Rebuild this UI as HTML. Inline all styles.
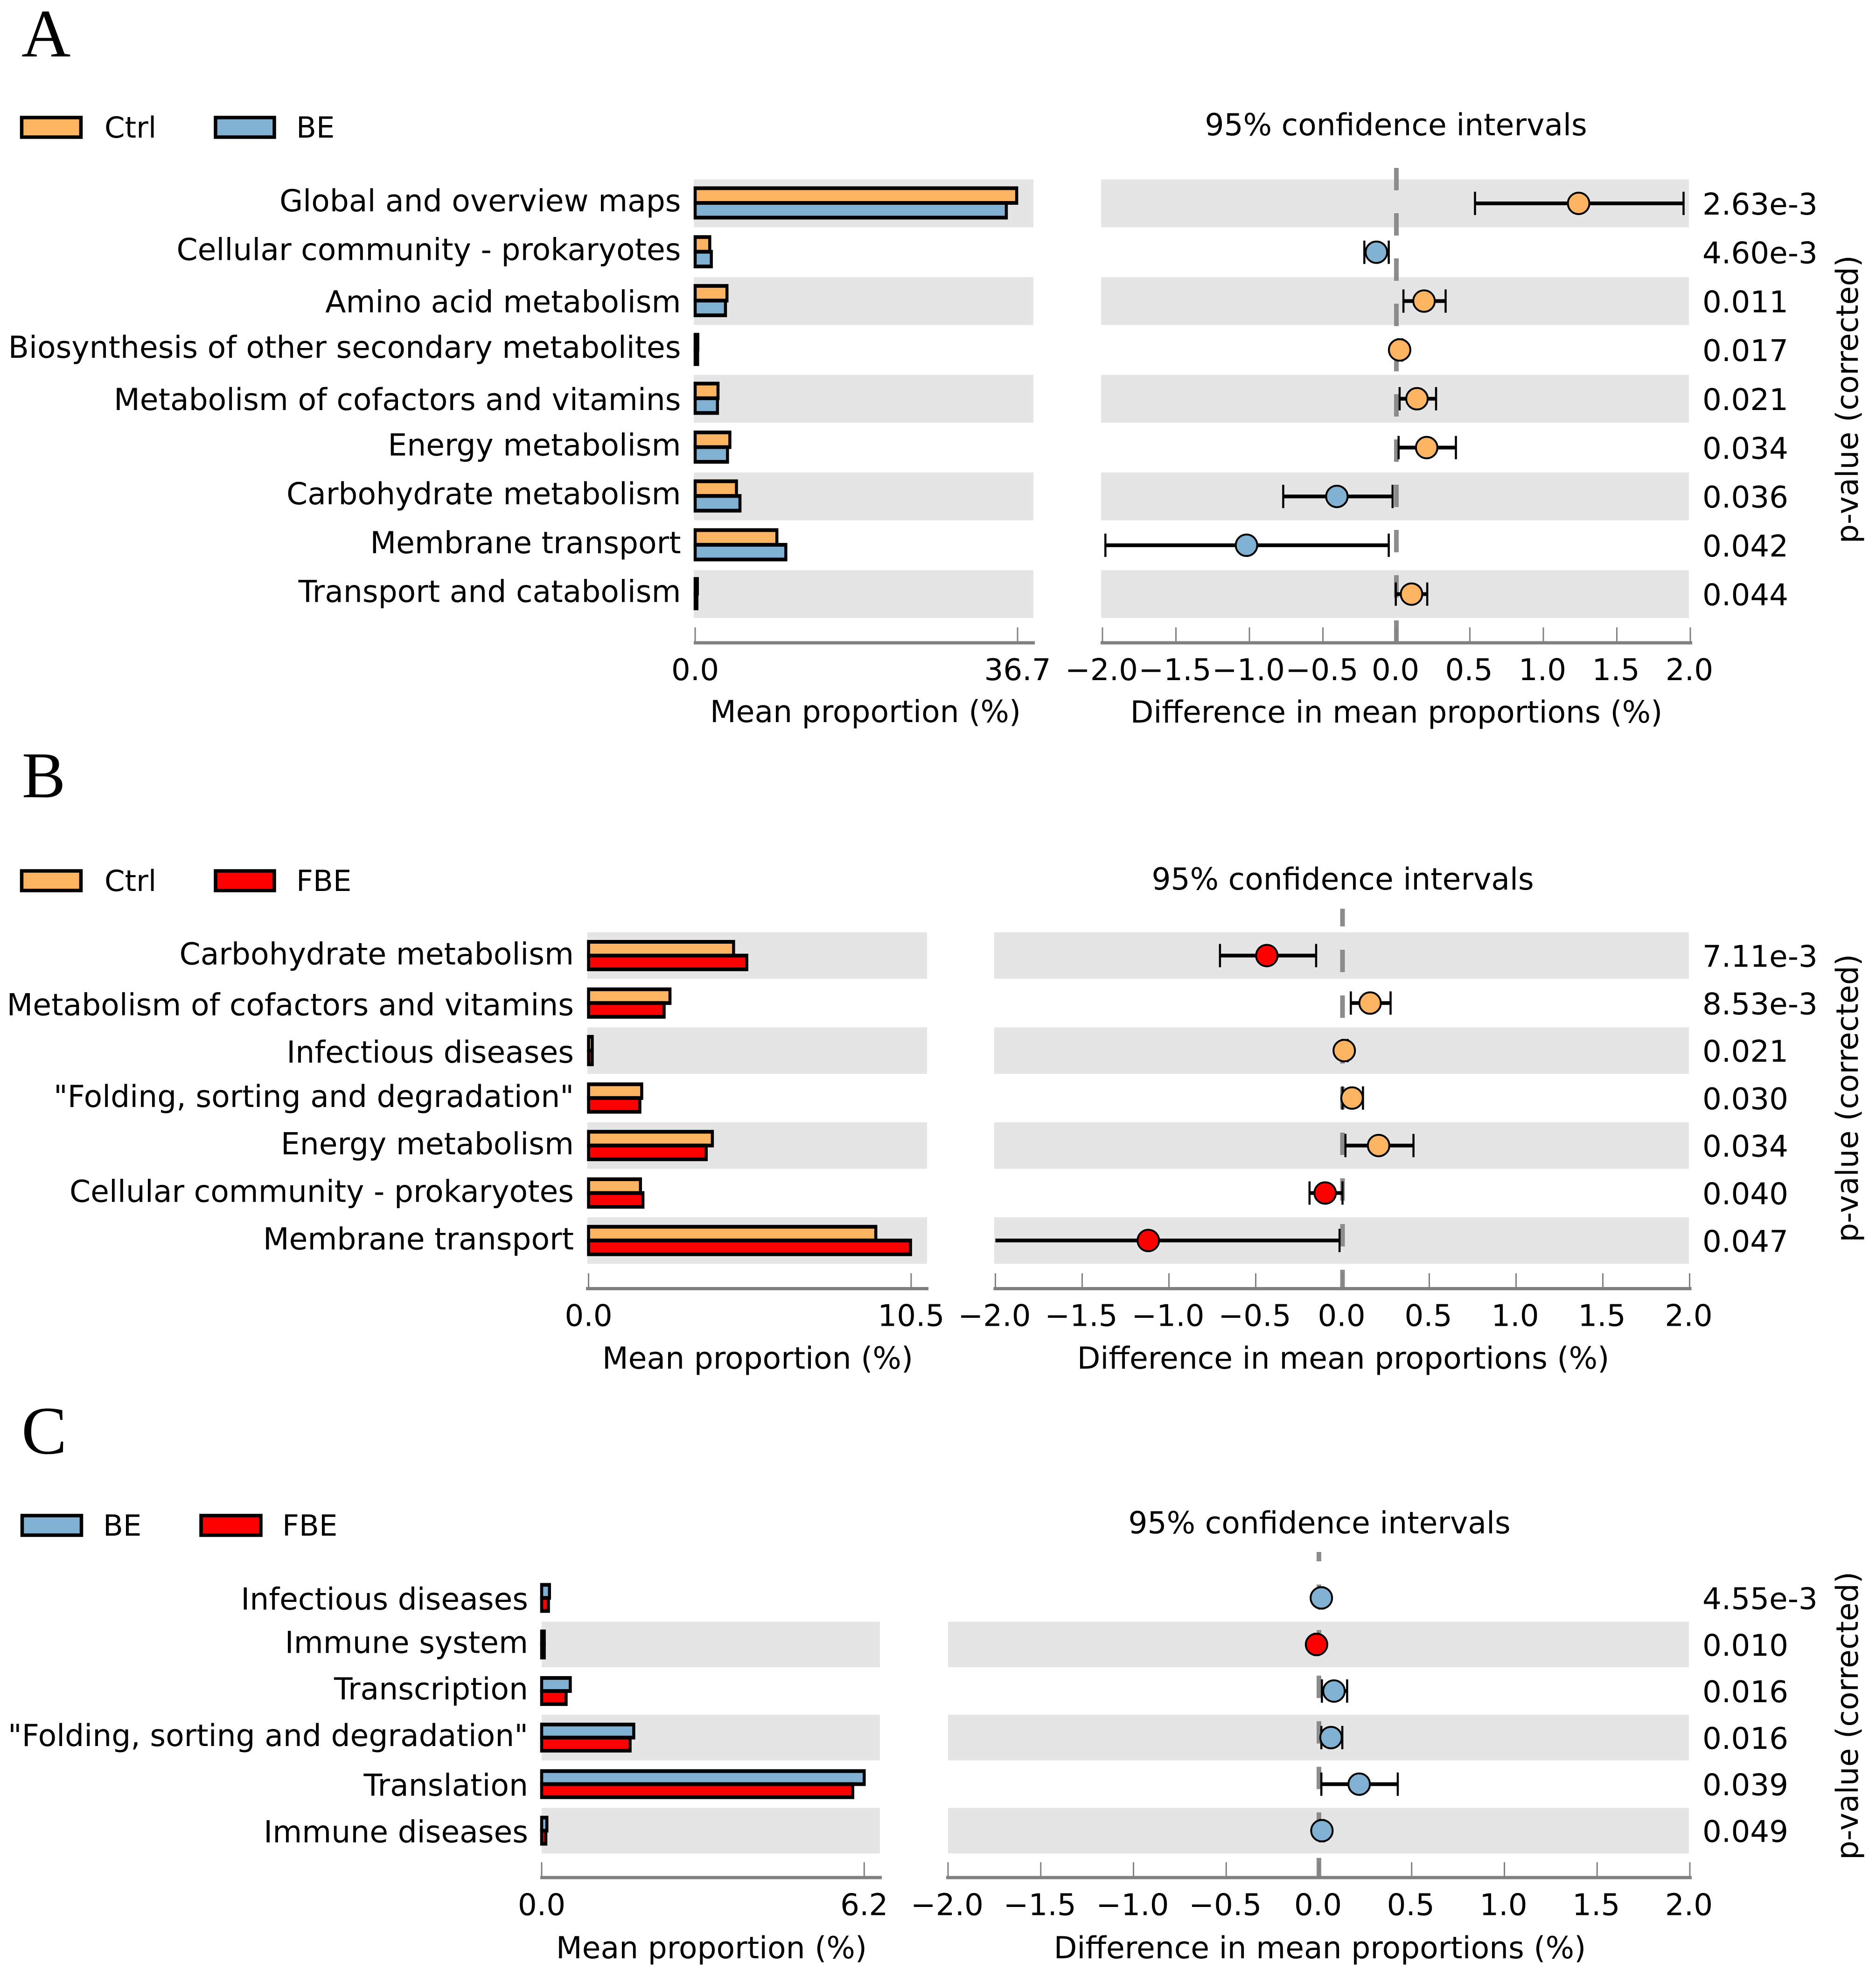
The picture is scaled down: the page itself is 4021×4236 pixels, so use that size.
<!DOCTYPE html>
<html lang="en">
<head>
<meta charset="utf-8">
<title>Extended error bar plots A, B, C</title>
<style>
html,body{margin:0;padding:0;background:#fff;}
svg{display:block;}
text{font-family:"DejaVu Sans","Liberation Sans",sans-serif;font-size:64.7px;fill:#000;}
.letter{font-family:"Liberation Serif",serif;font-size:146px;}
.legend-text{font-size:62.5px;}
.tick-text{font-size:64.3px;}
</style>
</head>
<body>
<svg id="figure" xmlns="http://www.w3.org/2000/svg" width="4021" height="4236" viewBox="0 0 4021 4236">
<rect x="0" y="0" width="4021" height="4236" fill="#ffffff"/>

<text class="letter" x="46" y="121">A</text>
<text class="letter" x="47" y="1709" style="font-size:140px">B</text>
<text class="letter" x="46" y="3116">C</text>

<g>
<rect x="46.5" y="252" width="127" height="42" fill="#FDB462" stroke="#000" stroke-width="7.5"/>
<text class="legend-text" x="224" y="295">Ctrl</text>
<rect x="462" y="252" width="126" height="42" fill="#80B1D3" stroke="#000" stroke-width="7.5"/>
<text class="legend-text" x="635" y="295">BE</text>
</g>
<g>
<rect x="46.5" y="1867" width="127" height="42" fill="#FDB462" stroke="#000" stroke-width="7.5"/>
<text class="legend-text" x="224" y="1910">Ctrl</text>
<rect x="462" y="1867" width="126" height="42" fill="#FF0000" stroke="#000" stroke-width="7.5"/>
<text class="legend-text" x="635" y="1910">FBE</text>
</g>
<g>
<rect x="47.5" y="3249" width="127" height="42" fill="#80B1D3" stroke="#000" stroke-width="7.5"/>
<text class="legend-text" x="221" y="3292">BE</text>
<rect x="431" y="3249" width="128" height="42" fill="#FF0000" stroke="#000" stroke-width="7.5"/>
<text class="legend-text" x="605" y="3292">FBE</text>
</g>

<text x="2992" y="290" text-anchor="middle">95% confidence intervals</text>
<text x="2878" y="1907" text-anchor="middle">95% confidence intervals</text>
<text x="2828" y="3287" text-anchor="middle">95% confidence intervals</text>

<text x="1855" y="1548" text-anchor="middle">Mean proportion (%)</text>
<text x="1624" y="2934" text-anchor="middle">Mean proportion (%)</text>
<text x="1525" y="4198" text-anchor="middle">Mean proportion (%)</text>

<text x="2993" y="1549" text-anchor="middle">Difference in mean proportions (%)</text>
<text x="2879" y="2934" text-anchor="middle">Difference in mean proportions (%)</text>
<text x="2829" y="4198" text-anchor="middle">Difference in mean proportions (%)</text>

<text transform="translate(3982,856) rotate(-90)" text-anchor="middle">p-value (corrected)</text>
<text transform="translate(3982,2354) rotate(-90)" text-anchor="middle">p-value (corrected)</text>
<text transform="translate(3982,3678) rotate(-90)" text-anchor="middle">p-value (corrected)</text>
</svg>

<script>
/* Panel A data */
var categoriesA = ["Global and overview maps","Cellular community - prokaryotes","Amino acid metabolism","Biosynthesis of other secondary metabolites","Metabolism of cofactors and vitamins","Energy metabolism","Carbohydrate metabolism","Membrane transport","Transport and catabolism"];
var ctrlMeanA = [36.6,1.66,3.62,0.3,2.6,3.95,4.7,9.3,0.25];
var beMeanA = [35.42,1.84,3.45,0.28,2.54,3.68,5.1,10.32,0.2];
var diffA = [1.24,-0.136,0.188,0.022,0.14,0.206,-0.405,-1.02,0.103];
var ciLowA = [0.535,-0.218,0.048,0.01,0.022,0.015,-0.77,-1.98,-0.004];
var ciHighA = [1.954,-0.052,0.335,0.04,0.27,0.405,-0.026,-0.052,0.21];
var pValuesA = ["2.63e-3","4.60e-3","0.011","0.017","0.021","0.034","0.036","0.042","0.044"];
var meanTicksA = [0,36.7];

/* Panel B data */
var categoriesB = ["Carbohydrate metabolism","Metabolism of cofactors and vitamins","Infectious diseases","\"Folding, sorting and degradation\"","Energy metabolism","Cellular community - prokaryotes","Membrane transport"];
var ctrlMeanB = [4.72,2.65,0.12,1.73,4.03,1.69,9.35];
var fbeMeanB = [5.15,2.46,0.12,1.67,3.83,1.77,10.48];
var diffB = [-0.436,0.159,0.01,0.055,0.208,-0.1,-1.119];
var ciLowB = [-0.706,0.048,0.0,0.0,0.017,-0.19,-2.0];
var ciHighB = [-0.152,0.277,0.03,0.118,0.409,0.0,-0.017];
var pValuesB = ["7.11e-3","8.53e-3","0.021","0.030","0.034","0.040","0.047"];
var meanTicksB = [0,10.5];

/* Panel C data */
var categoriesC = ["Infectious diseases","Immune system","Transcription","\"Folding, sorting and degradation\"","Translation","Immune diseases"];
var beMeanC = [0.15,0.05,0.55,1.77,6.2,0.1];
var fbeMeanC = [0.13,0.05,0.47,1.7,5.98,0.08];
var diffC = [0.013,-0.013,0.081,0.065,0.217,0.016];
var ciLowC = [0.003,-0.023,0.016,0.013,0.013,0.006];
var ciHighC = [0.023,-0.003,0.152,0.126,0.425,0.026];
var pValuesC = ["4.55e-3","0.010","0.016","0.016","0.039","0.049"];
var meanTicksC = [0,6.2];

var diffTicks = [-2,-1.5,-1,-0.5,0,0.5,1,1.5,2];

var ORANGE = "#FDB462", BLUE = "#80B1D3", RED = "#FF0000";
var svg = document.getElementById("figure");
var NS = "http://www.w3.org/2000/svg";

function make(tag, attrs, parent) {
  var el = document.createElementNS(NS, tag);
  for (var k in attrs) { el.setAttribute(k, attrs[k]); }
  parent.appendChild(el);
  return el;
}

function drawPanel(p) {
  var root = make("g", {}, svg);
  
  

  var meanX = function (v) { return p.mean0 + v * p.meanUnit; };
  var diffX = function (v) { return p.diff0 + v * p.diffUnit; };
  var rowY = function (i) { return p.y0 + i * p.pitch; };
  var SX = 6.5, SY = 8;

  p.categories.forEach(function (name, i) {
    var yc = rowY(i);
    if (i % 2 === p.shadeOdd) {
      var s1 = make("rect", {x: p.meanBgL, y: yc - (p.pitch - 2) / 2, width: p.meanBgR - p.meanBgL, height: p.pitch - 2, fill: "#E5E5E5"}, root);
      
      
      var s2 = make("rect", {x: p.diffBgL, y: yc - (p.pitch - 2) / 2, width: p.diffBgR - p.diffBgL, height: p.pitch - 2, fill: "#E5E5E5"}, root);
      
      
    }
  });

  var zero = make("line", {x1: diffX(0), x2: diffX(0), y1: p.dashStart, y2: p.axisY, stroke: "#8C8C8C", "stroke-width": 10, "stroke-dasharray": "48 " + (p.dashPitch - 48), "stroke-dashoffset": p.dashOffset}, root);
  
  

  p.categories.forEach(function (name, i) {
    var yc = rowY(i);
    var desc = /[gjpqy,]/.test(name);
    var lab = make("text", {x: p.labelX, y: yc + (desc ? 17 : 24) + p.labelOff, "text-anchor": "end"}, root);
    lab.textContent = name;
    
    

    [p.series1, p.series2].forEach(function (vals, s) {
      var top = yc + p.barOff + (s === 0 ? -p.barH : 0);
      var right = meanX(vals[i]);
      var outer = make("rect", {x: p.mean0 - SX / 2, y: top - SY / 2, width: right - p.mean0 + SX, height: p.barH + SY, fill: "#000"}, root);
      
      
      var inner = make("rect", {x: p.mean0 + SX / 2, y: top + SY / 2, width: Math.max(0, right - p.mean0 - SX), height: Math.max(0, p.barH - SY), fill: p.colors[s]}, root);
      
      
    });

    var lo = diffX(p.low[i]), hi = diffX(p.high[i]), cx = diffX(p.diff[i]);
    var ci = make("line", {x1: lo, x2: hi, y1: yc, y2: yc, stroke: "#000", "stroke-width": 8}, root);
    
    
    [lo, hi].forEach(function (cap, j) {
      if (j === 0 && p.low[i] <= -2) { return; }
      var c = make("line", {x1: cap, x2: cap, y1: yc - 25, y2: yc + 25, stroke: "#000", "stroke-width": 4.5}, root);
      
      
    });
    var dot = make("circle", {cx: cx, cy: yc, r: 23, fill: p.diff[i] >= 0 ? p.colors[0] : p.colors[1], stroke: "#000", "stroke-width": 4}, root);
    
    

    var pv = make("text", {"class": "tick-text", x: p.pX, y: yc + 24}, root);
    pv.textContent = p.pValues[i];
    
    
  });

  var ax1 = make("line", {x1: p.meanAxL, x2: p.meanAxR, y1: p.axisY, y2: p.axisY, stroke: "#808080", "stroke-width": 7}, root);
  
  
  var ax2 = make("line", {x1: diffX(-2) - 4, x2: diffX(2) + 4, y1: p.axisY, y2: p.axisY, stroke: "#808080", "stroke-width": 7}, root);
  
  

  p.meanTicks.forEach(function (v) {
    var t = make("line", {x1: meanX(v), x2: meanX(v), y1: p.axisY - 33, y2: p.axisY, stroke: "#808080", "stroke-width": 3}, root);
    
    
    var l = make("text", {"class": "tick-text", x: meanX(v), y: p.tickLabelY, "text-anchor": "middle"}, root);
    l.textContent = v.toFixed(1);
    
    
  });
  diffTicks.forEach(function (v) {
    var t = make("line", {x1: diffX(v), x2: diffX(v), y1: p.axisY - 33, y2: p.axisY, stroke: "#808080", "stroke-width": 3}, root);
    
    
    var l = make("text", {"class": "tick-text", x: diffX(v) - 2, y: p.tickLabelY, "text-anchor": "middle"}, root);
    l.textContent = v.toFixed(1).replace("-", "\u2212");
    
    
  });
}

drawPanel({id:"a", categories:categoriesA, series1:ctrlMeanA, series2:beMeanA, names:["ctrl","be"], colors:[ORANGE,BLUE],
  diff:diffA, low:ciLowA, high:ciHighA, pValues:pValuesA, meanTicks:meanTicksA,
  y0:436, pitch:104.7, shadeOdd:0, barH:31.5, barOff:-1,
  mean0:1490, meanUnit:18.83, meanBgL:1487, meanBgR:2215, meanAxL:1487, meanAxR:2218,
  diff0:2993, diffUnit:315, diffBgL:2360, diffBgR:3620,
  labelX:1459.5, labelOff:0, pX:3649, axisY:1378, tickLabelY:1458, dashStart:360, dashPitch:97, dashOffset:0});

drawPanel({id:"b", categories:categoriesB, series1:ctrlMeanB, series2:fbeMeanB, names:["ctrl","fbe"], colors:[ORANGE,RED],
  diff:diffB, low:ciLowB, high:ciHighB, pValues:pValuesB, meanTicks:meanTicksB,
  y0:2048.5, pitch:101.8, shadeOdd:0, barH:29.5, barOff:0,
  mean0:1261.5, meanUnit:65.85, meanBgL:1259, meanBgR:1987, meanAxL:1256, meanAxR:1990,
  diff0:2877.5, diffUnit:372, diffBgL:2131, diffBgR:3620,
  labelX:1230, labelOff:2, pX:3649, axisY:2762.5, tickLabelY:2842.5, dashStart:1948, dashPitch:98, dashOffset:10});

drawPanel({id:"c", categories:categoriesC, series1:beMeanC, series2:fbeMeanC, names:["be","fbe"], colors:[BLUE,RED],
  diff:diffC, low:ciLowC, high:ciHighC, pValues:pValuesC, meanTicks:meanTicksC,
  y0:3425.5, pitch:99.8, shadeOdd:1, barH:28, barOff:0,
  mean0:1161, meanUnit:111.5, meanBgL:1161, meanBgR:1886, meanAxL:1158, meanAxR:1890,
  diff0:2827, diffUnit:397.5, diffBgL:2032, diffBgR:3620,
  labelX:1132, labelOff:1, pX:3649, axisY:4025, tickLabelY:4105.5, dashStart:3327, dashPitch:97.7, dashOffset:28});
</script>
</body>
</html>
